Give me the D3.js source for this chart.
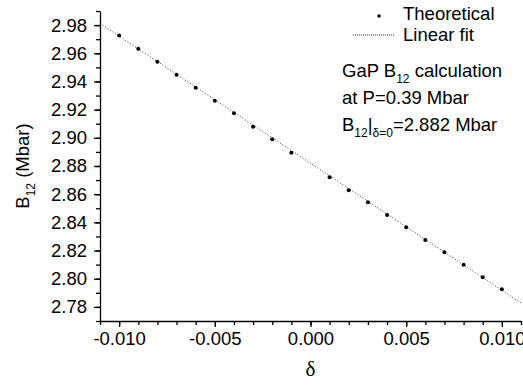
<!DOCTYPE html>
<html>
<head>
<meta charset="utf-8">
<script src="https://cdn.jsdelivr.net/npm/d3@7"></script>
<style>
  body { margin: 0; background: #fff; }
  svg text { font-family: "Liberation Sans", Arial, Helvetica, sans-serif; fill: #000; }
</style>
</head>
<body>
<div id="chart"></div>
<script>
// values
const delta = [-0.010, -0.009, -0.008, -0.007, -0.006, -0.005, -0.004, -0.003, -0.002, -0.001,
                0.001, 0.002, 0.003, 0.004, 0.005, 0.006, 0.007, 0.008, 0.009, 0.010];
const b12 = [2.9727, 2.9632, 2.9540, 2.9448, 2.9355, 2.9263, 2.9174, 2.9079, 2.8989, 2.8894,
             2.8720, 2.8628, 2.8543, 2.8453, 2.8365, 2.8275, 2.8188, 2.8100, 2.8011, 2.7926];
const fitX = [-0.011, 0.011];
const fitY = [2.9812, 2.7828];
const xTicks = [-0.010, -0.005, 0.000, 0.005, 0.010];
const yTicks = [2.78, 2.80, 2.82, 2.84, 2.86, 2.88, 2.90, 2.92, 2.94, 2.96, 2.98];

const W = 523, H = 385;
const margin = {top: 11, right: 2, bottom: 64, left: 100};
const width = W - margin.left - margin.right;
const height = H - margin.top - margin.bottom;
const fs = 18.5, sub = 12;

const x = d3.scaleLinear().domain([-0.011, 0.011]).range([0, width]);
const y = d3.scaleLinear().domain([2.77, 2.99]).range([height, 0]);

const svg = d3.select("#chart").append("svg")
    .attr("width", W).attr("height", H);
const g = svg.append("g")
    .attr("transform", `translate(${margin.left},${margin.top})`);

// minor ticks
const xMinor = d3.range(-11, 12).map(d => d / 1000);
const yMinor = d3.range(277, 300).map(d => d / 100);

g.append("g")
    .attr("transform", `translate(0,${height})`)
    .call(d3.axisBottom(x).tickValues(xMinor).tickSize(4).tickFormat(""))
    .call(a => a.select(".domain").remove());
g.append("g")
    .call(d3.axisLeft(y).tickValues(yMinor).tickSize(4).tickFormat(""))
    .call(a => a.select(".domain").remove());

// major ticks
const xAxis = g.append("g")
    .attr("transform", `translate(0,${height})`)
    .call(d3.axisBottom(x).tickValues(xTicks).tickSize(6).tickSizeOuter(0)
      .tickPadding(5).tickFormat(d => d3.format(".3f")(d).replace("−", "-")));
const yAxis = g.append("g")
    .call(d3.axisLeft(y).tickValues(yTicks).tickSize(6).tickSizeOuter(0)
      .tickPadding(7).tickFormat(d3.format(".2f")));

g.selectAll(".tick line, .domain").attr("stroke", "#000").attr("stroke-width", 1.3);
xAxis.selectAll("text").attr("font-size", fs);
yAxis.selectAll("text").attr("font-size", fs);

// linear fit
const line = d3.line().x(d => x(d[0])).y(d => y(d[1]));
g.append("path")
    .datum(d3.zip(fitX, fitY))
    .attr("fill", "none")
    .attr("stroke", "#333")
    .attr("stroke-width", 1)
    .attr("stroke-dasharray", "1,2")
    .attr("d", line);

// theoretical points
g.selectAll("circle.pt")
    .data(d3.zip(delta, b12))
    .join("circle")
    .attr("class", "pt")
    .attr("cx", d => x(d[0]))
    .attr("cy", d => y(d[1]))
    .attr("r", 2)
    .attr("fill", "#000");

// axis titles
svg.append("text")
    .attr("x", margin.left + x(0))
    .attr("y", 376)
    .attr("text-anchor", "middle")
    .attr("font-size", 21)
    .style("font-family", "'Liberation Serif', 'DejaVu Serif', serif")
    .text("δ");

const yl = svg.append("text")
    .attr("transform", `translate(29,166) rotate(-90)`)
    .attr("text-anchor", "middle")
    .attr("font-size", fs);
yl.append("tspan").text("B");
yl.append("tspan").attr("font-size", sub).attr("dy", 6).text("12");
yl.append("tspan").attr("dy", -6).text(" (Mbar)");

// legend
const leg = svg.append("g");
leg.append("circle").attr("cx", 379).attr("cy", 16).attr("r", 1.8).attr("fill", "#000");
leg.append("text").attr("x", 403).attr("y", 20).attr("font-size", fs).text("Theoretical");
leg.append("line").attr("x1", 353).attr("x2", 395).attr("y1", 35).attr("y2", 35)
    .attr("stroke", "#333").attr("stroke-width", 1).attr("stroke-dasharray", "1,1");
leg.append("text").attr("x", 403).attr("y", 41).attr("font-size", fs).text("Linear fit");

// annotation
const t1 = svg.append("text").attr("x", 342).attr("y", 77).attr("font-size", fs);
t1.append("tspan").text("GaP B");
t1.append("tspan").attr("font-size", sub).attr("dy", 6).text("12");
t1.append("tspan").attr("dy", -6).text(" calculation");

svg.append("text").attr("x", 342).attr("y", 104).attr("font-size", fs).text("at P=0.39 Mbar");

const t3 = svg.append("text").attr("x", 342).attr("y", 131).attr("font-size", fs);
t3.append("tspan").text("B");
t3.append("tspan").attr("font-size", sub).attr("dy", 6).text("12");
t3.append("tspan").attr("dy", -6).text("|");
t3.append("tspan").attr("font-size", sub).attr("dy", 6).text("δ=0");
t3.append("tspan").attr("dy", -6).text("=2.882 Mbar");
</script>
</body>
</html>
